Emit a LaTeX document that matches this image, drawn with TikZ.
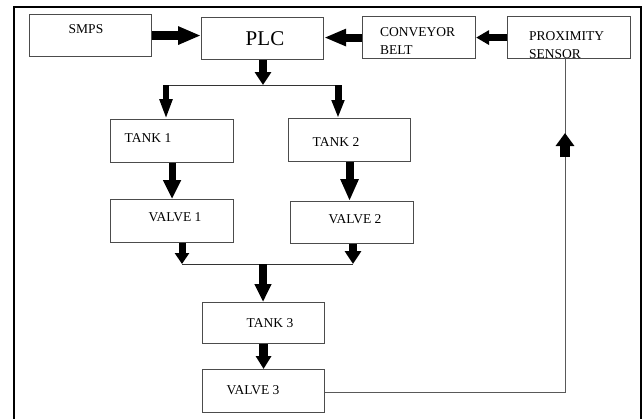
\documentclass[tikz,border=0pt]{standalone}
\usepackage{fontspec}
\setmainfont{Liberation Serif}
\usetikzlibrary{arrows.meta}
\begin{document}
\begin{tikzpicture}[x=1pt,y=-1pt,
  box/.style={draw=black!70, line width=1.1pt, inner sep=0pt, anchor=north west},
  lbl/.style={font=\fontsize{13.5}{17.5}\selectfont, inner sep=0pt},
  link/.style={draw=black!80, line width=1pt},
  blk/.style n args={3}{line width=#3pt, -{Triangle[length=#1pt, width=#2pt]}},
]
\useasboundingbox (0,0) rectangle (643,418);
\draw[line width=2pt] (14,420) -- (14,7) -- (641,7) -- (641,420);

% boxes
\node[box, minimum width=122pt, minimum height=42pt] (smps) at (29,14) {};
\node[lbl] (smpsT) at (86,29) {SMPS};
\node[box, minimum width=122pt, minimum height=42pt] (plc) at (201,17) {};
\node[font=\fontsize{21}{24}\selectfont, inner sep=0pt] (plcT) at (265,39) {PLC};
\node[box, minimum width=113pt, minimum height=42pt] (conv) at (362,16) {};
\node[lbl, align=left, anchor=west] (convT) at (380,41) {CONVEYOR\\BELT};
\node[box, minimum width=123pt, minimum height=42pt] (prox) at (507,16) {};
\node[lbl, align=left, anchor=west] (proxT) at (529,45) {PROXIMITY\\SENSOR};

\node[box, minimum width=123pt, minimum height=43pt] (tank1) at (110,119) {};
\node[lbl] (tank1T) at (148,138) {TANK 1};
\node[box, minimum width=122pt, minimum height=43pt] (tank2) at (288,118) {};
\node[lbl] (tank2T) at (336,142) {TANK 2};
\node[box, minimum width=123pt, minimum height=43pt] (valve1) at (110,199) {};
\node[lbl] (valve1T) at (175,217) {VALVE 1};
\node[box, minimum width=123pt, minimum height=42pt] (valve2) at (290,201) {};
\node[lbl] (valve2T) at (355,219) {VALVE 2};
\node[box, minimum width=122pt, minimum height=41pt] (tank3) at (202,302) {};
\node[lbl] (tank3T) at (270,323) {TANK 3};
\node[box, minimum width=122pt, minimum height=43pt] (valve3) at (202,369) {};
\node[lbl] (valve3T) at (253,390) {VALVE 3};

% top row arrows
\draw[blk={23}{17}{9}] (smps.east) -- (smps.east -| plc.west);
\draw[blk={22}{16}{8}] (conv.west) -- (conv.west -| plc.east);
\draw[blk={13}{14}{7}] (prox.west) -- (prox.west -| conv.east);

% PLC split
\coordinate (s1) at (263,85);
\coordinate (s1l) at (166,85);
\coordinate (s1r) at (338,85);
\draw[blk={13}{16}{8}] (plc.south -| s1) -- (s1);
\draw[link] (s1l) -- (s1r);
\draw[blk={20}{12}{6}] (s1l) -- (s1l |- tank1.north);
\draw[blk={18}{12}{7}] (s1r) -- (s1r |- tank2.north);

% tanks to valves
\draw[blk={19}{17}{7}] (tank1.south) -- (valve1.north);
\draw[blk={22}{17}{8}] (tank2.south) -- (tank2.south |- valve2.north);

% merge
\coordinate (s2l) at (182,264);
\coordinate (s2r) at (353,264);
\coordinate (s2m) at (263,264);
\draw[blk={11}{14}{7}] (valve1.south -| s2l) -- (s2l);
\draw[blk={13}{16}{8}] (valve2.south -| s2r) -- (s2r);
\draw[link] (s2l) -- (s2r);
\draw[blk={18}{16}{8}] (s2m) -- (s2m |- tank3.north);
\draw[blk={13}{15}{9}] (tank3.south) -- (valve3.north);

% feedback
\coordinate (fb) at (565,392);
\coordinate (fa) at (565,157);
\coordinate (ft) at (565,133);
\draw[link, draw=black!65] (valve3.east |- fb) -- (fb) -- (fb |- prox.south);
\draw[blk={13}{18}{10}] (fa) -- (ft);
\end{tikzpicture}
\end{document}
